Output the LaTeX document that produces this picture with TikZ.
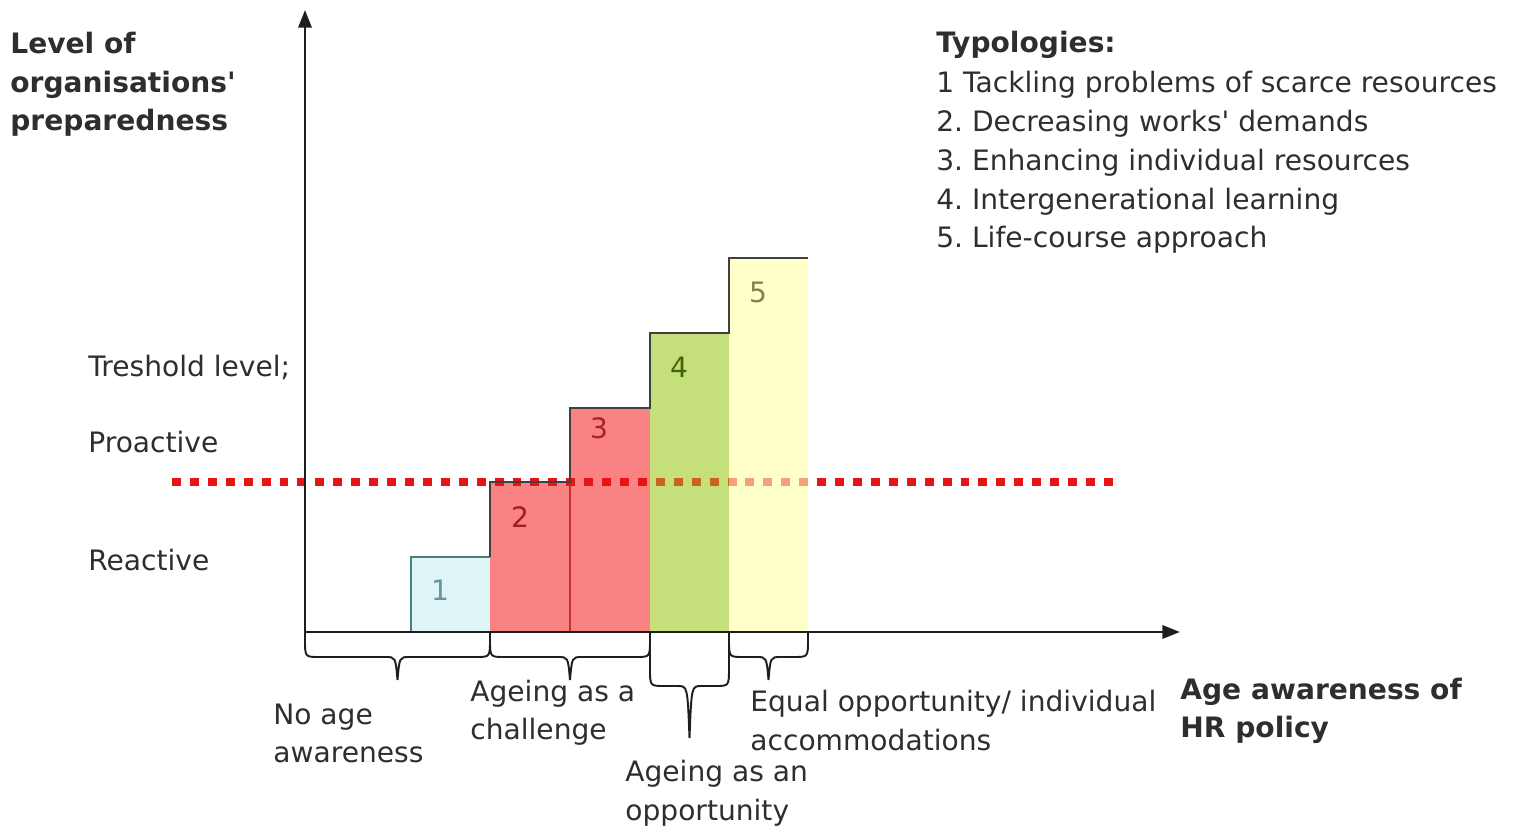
\documentclass[tikz,border=0pt]{standalone}
\usepackage{fontspec}
\setmainfont{DejaVu Sans}
\usetikzlibrary{arrows.meta}
\frenchspacing
\definecolor{txt}{HTML}{2E2E2E}
\definecolor{axisc}{HTML}{1E1E1E}
\definecolor{barone}{HTML}{DDF5F7}
\definecolor{barred}{HTML}{F98282}
\definecolor{bargreen}{HTML}{C5DF7B}
\definecolor{baryellow}{HTML}{FFFFCA}
\definecolor{thresh}{HTML}{E81414}
\newcommand\agebrace[5]{%
  % #1 name, #2 left x, #3 right x, #4 bar level, #5 tip level
  \draw[bracec] (#2,632) -- (#2,#4-18) .. controls (#2,#4) .. (#2+14,#4)
    -- ({(#2+#3)/2-12},#4) .. controls ({(#2+#3)/2-2},#4) .. ({(#2+#3)/2},#5)
    coordinate (#1)
    .. controls ({(#2+#3)/2+2},#4) .. ({(#2+#3)/2+12},#4)
    -- (#3-14,#4) .. controls (#3,#4) .. (#3,#4-18) -- (#3,632);}
\begin{document}
\begin{tikzpicture}[x=0.02cm,y=-0.02cm,
  font=\fontsize{16}{22.1}\selectfont,
  every node/.style={text=txt,inner sep=0pt},
  lbl/.style={anchor=base west,align=left},
  ttl/.style={lbl,font=\fontsize{16}{22.1}\selectfont\bfseries},
  num/.style={anchor=center},
  axisline/.style={draw=axisc,line width=1.5pt,-{Triangle[length=10pt,width=7.5pt]}},
  bracec/.style={draw=axisc,line width=1.1pt},
  stair/.style={draw=black!75,line width=0.9pt},
  dots/.style={line width=5pt,dash pattern=on 5.1pt off 5.1pt}]
\useasboundingbox (0,0) rectangle (1516,827);

% axes
\coordinate (origin) at (305,632);
\coordinate (ytop) at (305,10);
\coordinate (xend) at (1180,632);

% bars
\fill[barone]   (411,557) rectangle (490,632);
\fill[barred]   (490,482) rectangle (650,632);
\fill[barred]   (570,408) rectangle (650,482);
\fill[bargreen] (650,333) rectangle (729,632);
\fill[baryellow](729,258) rectangle (808,632);
\draw[draw=red!70!black!80,line width=0.6pt] (570,482) -- (570,632);

% threshold line
\draw[dots,thresh] (172,482) -- (1118,482);
\begin{scope}
  \clip (650,333) rectangle (729,632);
  \draw[dots,color={rgb,255:red,200;green,100;blue,30}] (172,482) -- (1118,482);
\end{scope}
\begin{scope}
  \clip (729,258) rectangle (808,632);
  \draw[dots,color={rgb,255:red,244;green,162;blue,122}] (172,482) -- (1118,482);
\end{scope}

% staircase outline
\draw[draw=teal!40!gray,line width=0.9pt] (411,632) -- (411,557) -- (490,557);
\draw[stair] (490,557) -- (490,482) -- (570,482) -- (570,408) -- (650,408)
  -- (650,333) -- (729,333) -- (729,258) -- (808,258);

% bar numbers
\node[num,text={rgb,255:red,100;green,150;blue,155}] (n1) at (440,590) {1};
\node[num,text={rgb,255:red,160;green,30;blue,30}]  (n2) at (520,517) {2};
\node[num,text={rgb,255:red,170;green,35;blue,35}]  (n3) at (599,428) {3};
\node[num,text={rgb,255:red,70;green,100;blue,15}]  (n4) at (679,367) {4};
\node[num,text={rgb,255:red,130;green,130;blue,80}] (n5) at (758,292) {5};

\draw[axisline] (origin) -- (ytop);
\draw[axisline] (origin) -- (xend);

% braces under the axis
\agebrace{b1}{305}{490}{657}{680}
\agebrace{b2}{490}{650}{657}{680}
\agebrace{b3}{650}{729}{686}{738}
\agebrace{b4}{729}{808}{657}{680}

% axis titles (multi-line nodes sit on the baseline of their last line)
\node[ttl] (ytitle) at (10,131) {Level of\\organisations\textquotesingle\\preparedness};
\node[ttl] (xtitle) at (1180,738) {Age awareness of\\HR policy};

% levels
\node[lbl] (thr) at (88,377) {Treshold level;};
\node[lbl] (pro) at (88,453) {Proactive};
\node[lbl] (rea) at (88,571) {Reactive};

% brace labels
\node[lbl] (l1) at (273,763) {No age\\awareness};
\node[lbl] (l2) at (470,740) {Ageing as a\\challenge};
\node[lbl] (l3) at (625,820) {Ageing as an\\opportunity};
\node[lbl] (l4) at (750,750) {Equal opportunity/ individual\\accommodations};

% legend
\node[ttl] (typ) at (936,53) {Typologies:};
\node[lbl] (typlist) at (936,248) {1 Tackling problems of scarce resources\\
2. Decreasing works\textquotesingle\ demands\\
3. Enhancing individual resources\\
4. Intergenerational learning\\
5. Life-course approach};
\end{tikzpicture}
\end{document}
